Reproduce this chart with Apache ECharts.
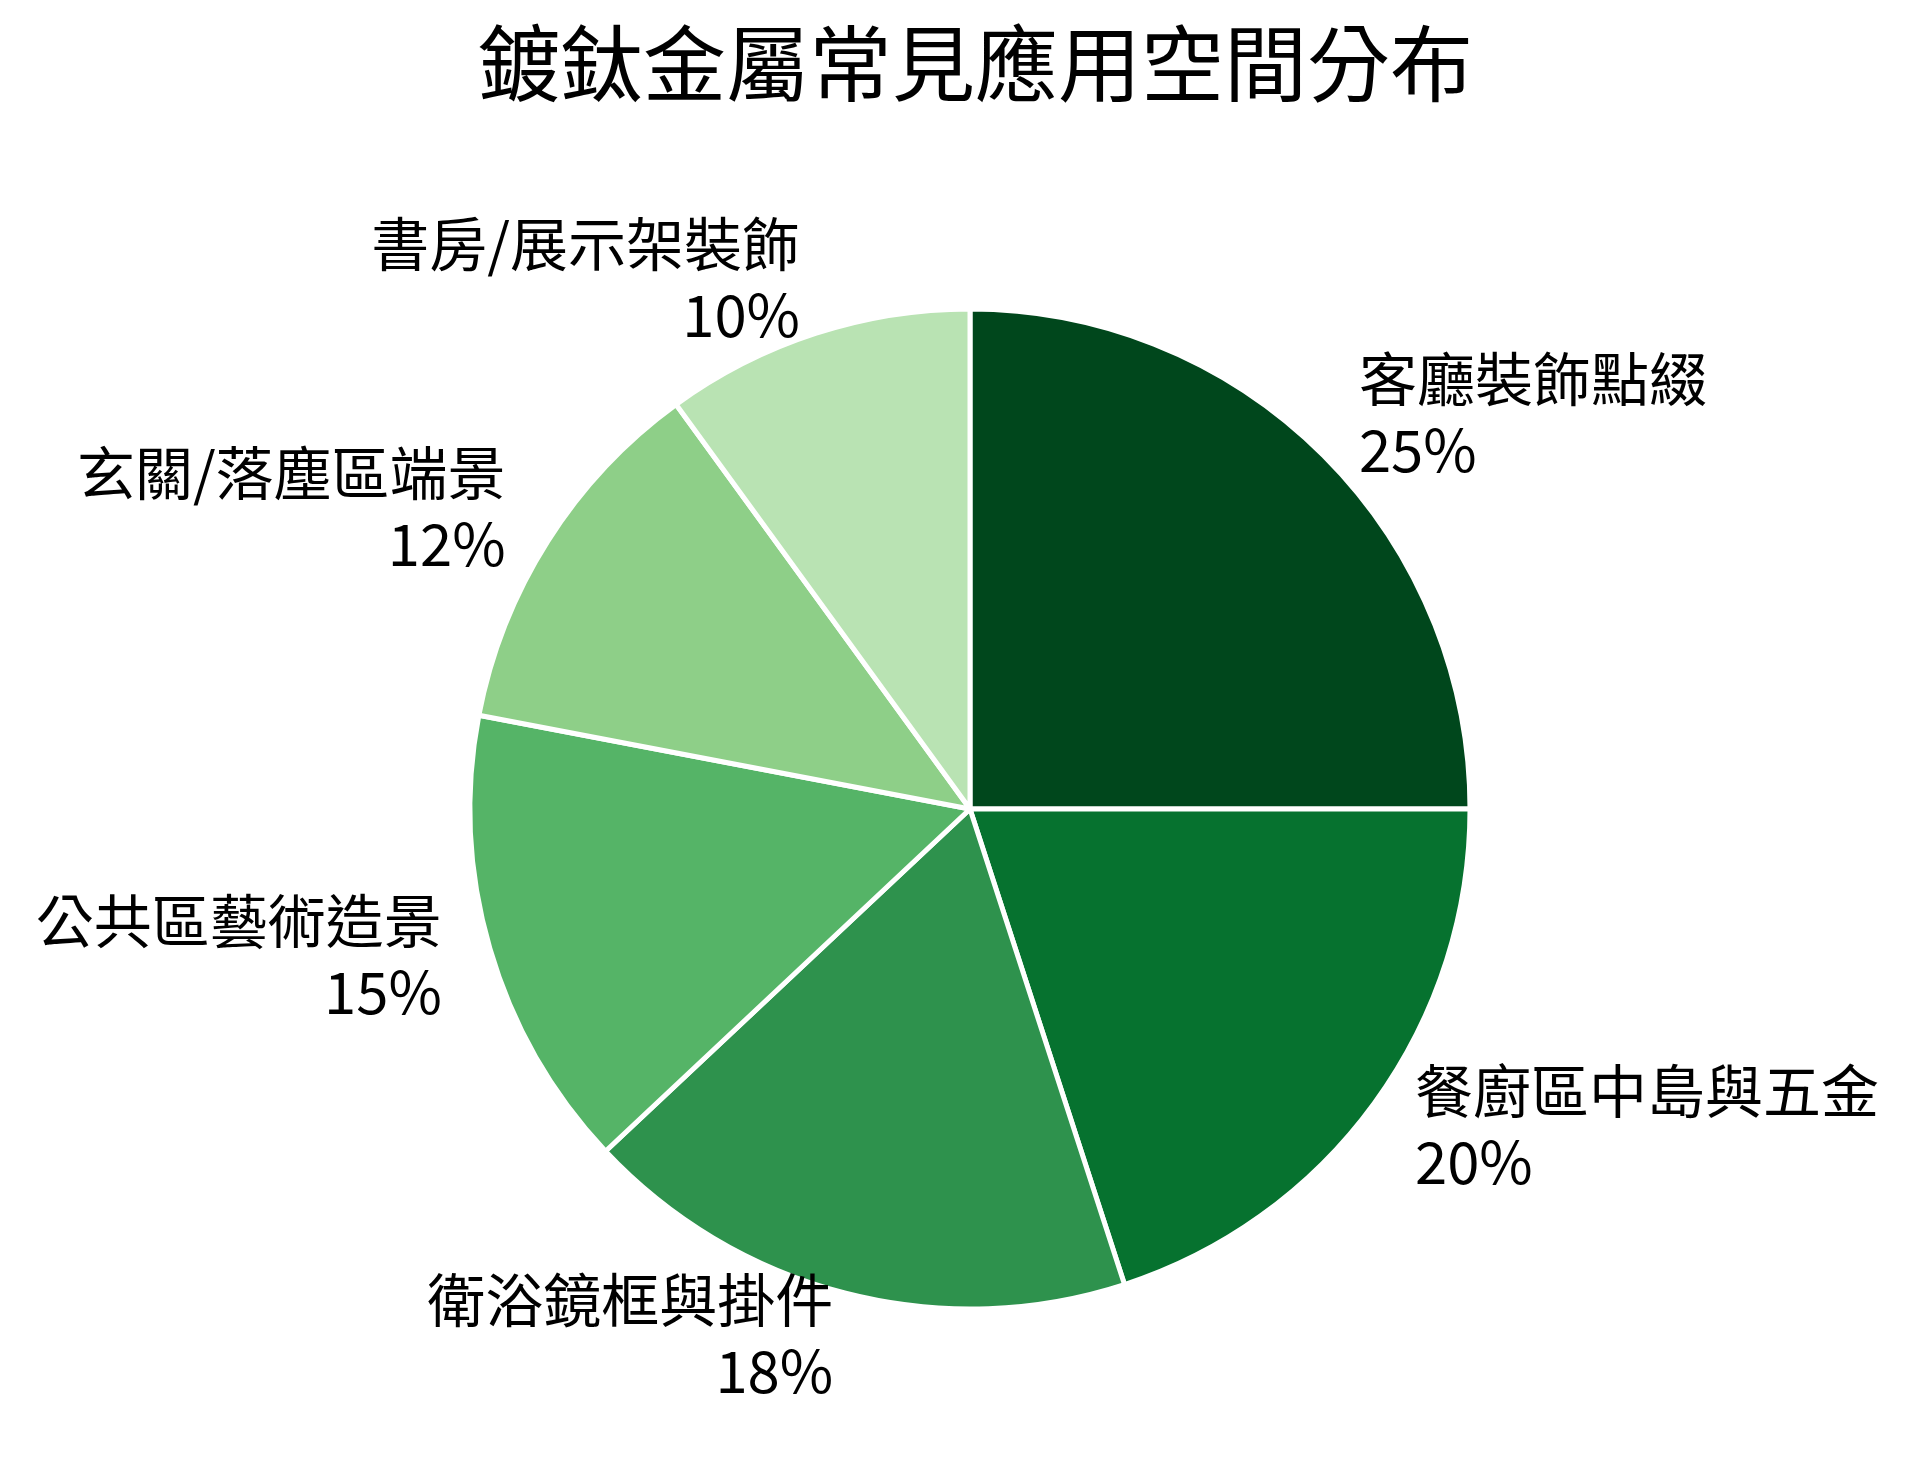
<!DOCTYPE html>
<html>
<head>
<meta charset="utf-8">
<script src="https://cdn.jsdelivr.net/npm/echarts@6/dist/echarts.min.js"></script>
<style>
  html, body { margin: 0; padding: 0; background: #fff; }
  #main { width: 1914px; height: 1468px; }
</style>
</head>
<body>
<div id="main"></div>
<script>
// 各空間名稱與占比（%）
const spaces = ['客廳裝飾點綴', '餐廚區中島與五金', '衛浴鏡框與掛件', '公共區藝術造景', '玄關/落塵區端景', '書房/展示架裝飾'];
const shares = [25, 20, 18, 15, 12, 10];
const sliceColors = ['#00471c', '#06722f', '#2e924d', '#55b467', '#8ecf88', '#b9e3b3'];

const FONT = '"Noto Sans CJK TC", "Noto Sans CJK SC", sans-serif';

const myChart = echarts.init(document.getElementById('main'));

const option = {
  backgroundColor: '#fff',
  animation: false,
  title: {
    text: '鍍鈦金屬常見應用空間分布',
    left: 472,
    top: 13,
    textStyle: {
      fontFamily: FONT,
      fontSize: 83,
      fontWeight: 'normal',
      color: '#000',
      lineHeight: 90
    }
  },
  series: [{
    type: 'pie',
    center: [970, 809],
    radius: 500,
    startAngle: 90,
    clockwise: true,
    avoidLabelOverlap: false,
    itemStyle: {
      borderColor: '#fff',
      borderWidth: 5
    },
    label: {
      show: true,
      position: 'outside',
      formatter: '{b}\n{c}%',
      fontFamily: FONT,
      fontSize: 58,
      lineHeight: 71,
      color: '#000',
      distanceToLabelLine: 0
    },
    labelLine: {
      show: false,
      length: 50,
      length2: 0
    },
    // 文字整體略往上移，對齊原圖
    labelLayout: function () {
      return { dy: -6 };
    },
    emphasis: { disabled: true },
    data: spaces.map((name, i) => ({
      name: name,
      value: shares[i],
      itemStyle: { color: sliceColors[i] }
    }))
  }]
};

myChart.setOption(option);
</script>
</body>
</html>
